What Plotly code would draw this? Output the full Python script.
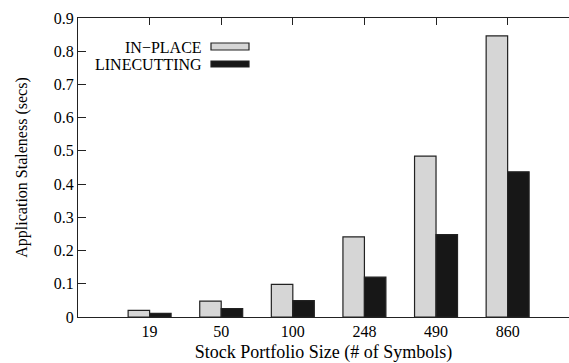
import plotly.graph_objects as go

# Portfolio sizes (number of symbols) and measured staleness in seconds
portfolio_sizes = ["19", "50", "100", "248", "490", "860"]
inplace_secs = [0.020, 0.048, 0.098, 0.241, 0.484, 0.846]
linecutting_secs = [0.011, 0.025, 0.049, 0.120, 0.248, 0.437]

series_names = ["IN\u2212PLACE", "LINECUTTING"]
fill_colors = ["#d6d6d6", "#171717"]

FONT = "Liberation Serif, Times New Roman, serif"

fig = go.Figure()
for name, vals, col in zip(series_names, [inplace_secs, linecutting_secs], fill_colors):
    fig.add_trace(go.Bar(
        x=portfolio_sizes, y=vals, name=name,
        marker=dict(color=col, line=dict(color="#222222", width=1.2)),
        showlegend=False,
    ))

W, H = 569, 363
L, R, T, B = 78, 0, 18, 46
pw, ph = W - L - R, H - T - B

def px_x(x):
    return (x - L) / pw

def px_y(y):
    return 1 - (y - T) / ph

# Key: right-aligned labels followed by filled boxes
key_rows = [(47, 43, 50), (64, 61, 67)]
for name, col, (yc, y0, y1) in zip(series_names, fill_colors, key_rows):
    fig.add_annotation(
        x=px_x(204), y=px_y(yc), xref="paper", yref="paper",
        text=name, showarrow=False, xanchor="right", yanchor="middle",
        font=dict(family=FONT, size=16, color="black"),
    )
    fig.add_shape(
        type="rect", xref="paper", yref="paper",
        x0=px_x(211), x1=px_x(249), y0=px_y(y1), y1=px_y(y0),
        fillcolor=col, line=dict(color="#222222", width=1.2),
    )

fig.update_layout(
    width=W, height=H,
    margin=dict(l=L, r=R, t=T, b=B, pad=0),
    paper_bgcolor="white", plot_bgcolor="white",
    barmode="group", bargap=0.4, bargroupgap=0,
    font=dict(family=FONT, size=16, color="black"),
)

fig.update_xaxes(
    type="category", range=[-1, 5.857],
    showline=True, linecolor="#222222", linewidth=1.2, mirror="ticks",
    ticks="inside", ticklen=7, tickcolor="#222222", tickwidth=1,
    showgrid=False, zeroline=False,
    tickfont=dict(family=FONT, size=16, color="black"),
    title=dict(text="Stock Portfolio Size (# of Symbols)", standoff=7,
               font=dict(family=FONT, size=18, color="black")),
)
fig.update_yaxes(
    range=[0, 0.9], dtick=0.1, tick0=0,
    showline=True, linecolor="#222222", linewidth=1.2, mirror=False,
    ticks="inside", ticklen=8, tickcolor="#222222", tickwidth=1,
    showgrid=False, zeroline=False,
    tickfont=dict(family=FONT, size=16, color="black"),
    title=dict(text="Application Staleness (secs)", standoff=22,
               font=dict(family=FONT, size=16, color="black")),
)

fig.write_html("out.html")
